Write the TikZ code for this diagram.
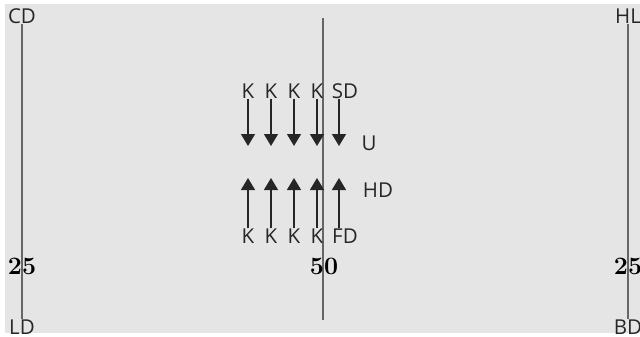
\documentclass[tikz,border=0pt]{standalone}
\usepackage{fontspec}
\setsansfont{Open Sans}
\usetikzlibrary{arrows.meta}
\begin{document}
\begin{tikzpicture}[x=1pt,y=-1pt,
  lbl/.style={font=\sffamily\fontsize{20.5}{20.5}\selectfont, inner sep=0pt, text=black!85},
  num/.style={font=\rmfamily\bfseries\fontsize{25}{25}\selectfont, inner sep=0pt},
  axis/.style={draw=black!60, line width=1.4pt},
  arr/.style={draw=black!85, line width=1.3pt, -{Triangle[width=14pt,length=12pt]}}]
\useasboundingbox (0,0) rectangle (640,337);
\fill[black!10] (5,4) rectangle (640,333);
% side lines
\node[lbl] (CD) at (22,16) {CD};
\node[lbl] (LD) at (22,327) {LD};
\draw[axis] (CD.south) -- (LD.north);
\node[lbl] (HL) at (628,16) {HL};
\node[lbl] (BD) at (628,327) {BD};
\draw[axis] (HL.south) -- (BD.north);
% middle line
\coordinate (mtop) at (323,18);
\coordinate (mbot) at (323,320);
\draw[axis] (mtop) -- (mbot);
% numbers
\node[num] (n25l) at (22,266) {25};
\node[num] (n50) at (324,266) {50};
\node[num] (n25r) at (628,266) {25};
% down arrows
\foreach \i/\x in {1/248,2/271,3/294,4/317}{
  \node[lbl] (kt\i) at (\x,91) {K};
  \coordinate (dt\i) at (\x,146);
  \draw[arr] (kt\i.south) -- (dt\i);
}
\node[lbl] (SD) at (345,91) {SD};
\coordinate (sds) at (339,99);
\coordinate (dt5) at (339,146);
\draw[arr] (sds) -- (dt5);
\node[lbl] (U) at (369,143) {U};
% up arrows
\foreach \i/\x in {1/248,2/271,3/294,4/317}{
  \node[lbl] (kb\i) at (\x,236) {K};
  \coordinate (ut\i) at (\x,178);
  \draw[arr] (kb\i.north) -- (ut\i);
}
\node[lbl] (FD) at (345,236) {FD};
\coordinate (fdn) at (339,228);
\coordinate (ut5) at (339,178);
\draw[arr] (fdn) -- (ut5);
\node[lbl] (HD) at (378,190) {HD};
\end{tikzpicture}
\end{document}
